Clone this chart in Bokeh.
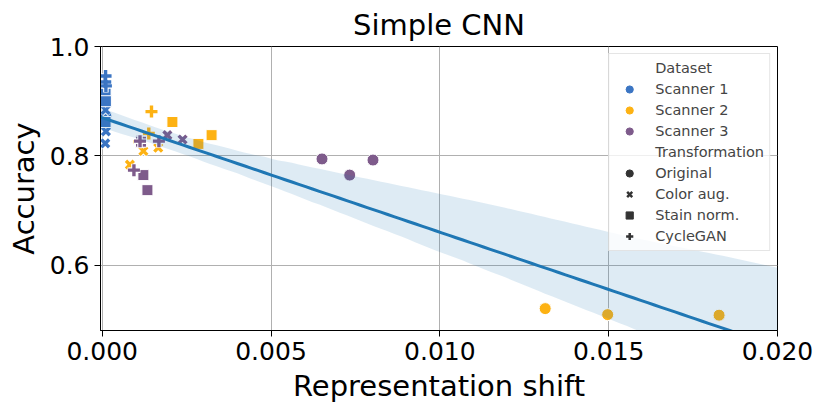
import numpy as np
from bokeh.plotting import figure
from bokeh.models import Range1d, FixedTicker, PrintfTickFormatter, Legend, LegendItem
from bokeh.embed import file_html
from bokeh.resources import INLINE

# ---------------- data ----------------
datasets = ["Scanner 1", "Scanner 2", "Scanner 3"]
transforms = ["Original", "Color aug.", "Stain norm.", "CycleGAN"]

dataset = (["Scanner 1"] * 12) + (["Scanner 2"] * 12) + (["Scanner 3"] * 12)
transform = (["Original"] * 3 + ["Color aug."] * 3 + ["Stain norm."] * 3 + ["CycleGAN"] * 3) * 3

shift = [
    # Scanner 1
    0.00010, 0.00009, 0.00011,
    0.00010, 0.00011, 0.00009,
    0.00010, 0.00011, 0.00010,
    0.00010, 0.00009, 0.00011,
    # Scanner 2
    0.01312, 0.01497, 0.01827,
    0.00082, 0.00122, 0.00166,
    0.00208, 0.00324, 0.00285,
    0.00146, 0.00138, 0.00110,
    # Scanner 3
    0.00651, 0.00733, 0.00802,
    0.00193, 0.00238, 0.00112,
    0.00122, 0.00134, 0.00115,
    0.00112, 0.00168, 0.00094,
]
accuracy = [
    # Scanner 1
    0.868, 0.860, 0.873,
    0.884, 0.845, 0.823,
    0.918, 0.900, 0.862,
    0.946, 0.935, 0.928,
    # Scanner 2
    0.521, 0.510, 0.509,
    0.784, 0.809, 0.815,
    0.862, 0.838, 0.822,
    0.881, 0.841, 0.826,
    # Scanner 3
    0.7945, 0.765, 0.7925,
    0.838, 0.830, 0.829,
    0.765, 0.7375, 0.826,
    0.827, 0.827, 0.774,
]

x_ticks = [0.000, 0.005, 0.010, 0.015, 0.020]
y_ticks = [0.6, 0.8, 1.0]

# ---------------- styles ----------------
colors = {"Scanner 1": "#3b75c3", "Scanner 2": "#fdb213", "Scanner 3": "#7e5b8b"}
markers = {"Original": "circle", "Color aug.": "x", "Stain norm.": "square", "CycleGAN": "cross"}
sizes = {"Original": 12, "Color aug.": 11, "Stain norm.": 11, "CycleGAN": 12}
FONT = "DejaVu Sans"
X0, X1 = -0.00005, 0.020
Y0, Y1 = 0.481, 1.0

p = figure(width=822, height=407, x_range=Range1d(X0, X1), y_range=Range1d(Y0, Y1),
           output_backend="svg", toolbar_location=None,
           min_border_left=100, min_border_right=45, min_border_top=45, min_border_bottom=77)

p.title.text = "Simple CNN"
p.title.align = "center"
p.title.text_font = FONT
p.title.text_font_size = "29px"
p.title.text_font_style = "normal"
p.title.text_color = "black"

p.xaxis.axis_label = "Representation shift"
p.yaxis.axis_label = "Accuracy"
p.xaxis.ticker = FixedTicker(ticks=x_ticks)
p.yaxis.ticker = FixedTicker(ticks=y_ticks)
p.xaxis.formatter = PrintfTickFormatter(format="%.3f")
p.yaxis.formatter = PrintfTickFormatter(format="%.1f")
for ax in (p.xaxis, p.yaxis):
    ax.major_label_text_font = FONT
    ax.major_label_text_font_size = "25px"
    ax.major_label_text_color = "black"
    ax.axis_label_text_font = FONT
    ax.axis_label_text_font_size = "29px"
    ax.axis_label_text_font_style = "normal"
    ax.axis_label_text_color = "black"
    ax.minor_tick_line_color = None
    ax.major_tick_out = 6
    ax.major_tick_in = 0
    ax.major_label_standoff = 5
    ax.axis_label_standoff = 6
    ax.axis_line_color = "black"
    ax.major_tick_line_color = "black"
p.outline_line_color = "black"
p.outline_line_alpha = 1
p.grid.grid_line_color = "#b0b0b0"
p.grid.grid_line_width = 1

# ---------------- scatter ----------------
sx = np.array(shift)
sy = np.array(accuracy)
ds = np.array(dataset)
tr = np.array(transform)
for d in datasets:
    for t in transforms:
        m = (ds == d) & (tr == t)
        xs, ys = sx[m].tolist(), sy[m].tolist()
        mk = markers[t]
        if mk in ("circle", "square"):
            p.scatter(xs, ys, marker=mk, size=sizes[t], fill_color=colors[d],
                      line_color="white", line_width=1)
        else:
            p.scatter(xs, ys, marker=mk, size=sizes[t] + 1, line_color="white", line_width=5.5)
            p.scatter(xs, ys, marker=mk, size=sizes[t], line_color=colors[d], line_width=3.4)

# ---------------- regression with bootstrap CI (as seaborn regplot) ----------------
grid = np.linspace(X0, X1, 100)
coef = np.polyfit(sx, sy, 1)
fit = np.polyval(coef, grid)
rng = np.random.default_rng(0)
n = len(sx)
boots = []
for _ in range(1000):
    idx = rng.integers(0, n, n)
    b = np.polyfit(sx[idx], sy[idx], 1)
    boots.append(np.polyval(b, grid))
lo, hi = np.percentile(np.array(boots), [2.5, 97.5], axis=0)
p.varea(x=grid, y1=lo, y2=hi, fill_color="#1f77b4", fill_alpha=0.15)
p.line(grid, fit, line_color="#1f77b4", line_width=3)

# ---------------- legend (zero-size proxy glyphs on the real data) ----------------
dark = "#333333"
items = []
h1 = p.scatter(shift, accuracy, marker="circle", size=0, fill_alpha=0, line_alpha=0)
items.append(LegendItem(label="Dataset", renderers=[h1]))
for d in datasets:
    m = ds == d
    r = p.scatter(sx[m].tolist(), sy[m].tolist(), marker="circle", size=0,
                  fill_color=colors[d], line_color=colors[d])
    items.append(LegendItem(label=d, renderers=[r]))
h2 = p.scatter(shift, accuracy, marker="circle", size=0, fill_alpha=0, line_alpha=0)
items.append(LegendItem(label="Transformation", renderers=[h2]))
for t in transforms:
    m = tr == t
    mk = markers[t]
    if mk in ("circle", "square"):
        r = p.scatter(sx[m].tolist(), sy[m].tolist(), marker=mk, size=0,
                      fill_color=dark, line_color=dark)
    else:
        r = p.scatter(sx[m].tolist(), sy[m].tolist(), marker=mk, size=0,
                      line_color=dark, line_width=2.5)
    items.append(LegendItem(label=t, renderers=[r]))

legend = Legend(items=items, location="top_right", margin=7, padding=5, spacing=3,
                glyph_height=18, glyph_width=30, label_height=16, label_standoff=11,
                label_text_font=FONT, label_text_font_size="14.5px",
                border_line_color="#cccccc", background_fill_color="white",
                background_fill_alpha=0.8)
p.add_layout(legend)

open("out.html", "w").write(file_html(p, INLINE))
